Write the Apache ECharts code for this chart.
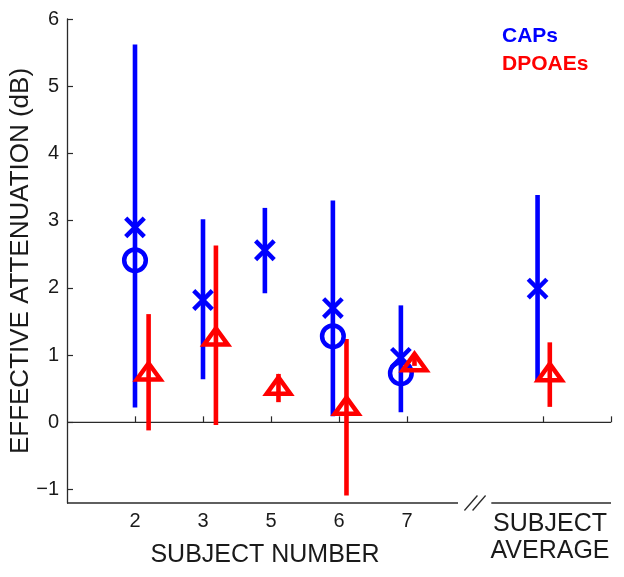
<!DOCTYPE html>
<html><head><meta charset="utf-8">
<script src="https://cdn.jsdelivr.net/npm/echarts@6/dist/echarts.min.js"></script>
<style>html,body{margin:0;padding:0;background:#fff}#c{width:624px;height:577px}</style>
</head><body><div id="c"></div>
<script>
// ---- data ----
const categories = ['2', '3', '5', '6', '7', 'SUBJECT\nAVERAGE'];
const catPos = [1, 2, 3, 4, 5, 7];
const capX = [1.0, 2.0, 2.91, 3.91, 4.91, 6.92];
const dpX = [1.2, 2.19, 3.11, 4.11, 5.11, 7.1];
const capLow = [0.22, 0.64, 1.92, 0.09, 0.15, 0.60];
const capHigh = [5.62, 3.02, 3.19, 3.30, 1.74, 3.38];
const capCross = [2.90, 1.82, 2.56, 1.70, 0.96, 1.99];
const capCircle = [2.41, null, null, 1.28, 0.73, null];
const dpLow = [-0.12, -0.04, 0.30, -1.09, 0.84, 0.23];
const dpHigh = [1.61, 2.63, 0.72, 1.24, 0.96, 1.19];
const dpTri = [0.76, 1.28, 0.55, 0.25, 0.90, 0.75];
const yTicks = [-1, 0, 1, 2, 3, 4, 5, 6];
const xTicks = [1, 2, 3, 4, 5, 7, 8];
const yMin = -1.2, yMax = 6, xMin = 0, xMax = 8;
const axisGap = [5.75, 6.24];
const slashX = [5.94, 6.06];

const BLUE = '#0000ff', RED = '#ff0000', AX = '#2a2a2a';
const FONT = '"Liberation Sans", Arial, Helvetica, sans-serif';

function barSeries(name, xs, lo, hi, color) {
  return {
    type: 'custom', name: name, z: 3,
    data: xs.map((x, i) => [x, lo[i], hi[i]]),
    encode: { x: 0, y: [1, 2] },
    renderItem: function (params, api) {
      const a = api.coord([api.value(0), api.value(1)]);
      const b = api.coord([api.value(0), api.value(2)]);
      return { type: 'line', shape: { x1: a[0], y1: a[1], x2: b[0], y2: b[1] },
        style: { stroke: color, lineWidth: 4.6, lineCap: 'butt' } };
    }
  };
}
function markerSeries(name, xs, ys, color, kind, z) {
  const data = [];
  xs.forEach((x, i) => { if (ys[i] !== null) data.push([x, ys[i]]); });
  return {
    type: 'custom', name: name, z: z,
    data: data, encode: { x: 0, y: 1 },
    renderItem: function (params, api) {
      const p = api.coord([api.value(0), api.value(1)]);
      const st = { stroke: color, fill: 'none', lineWidth: 4.5, lineJoin: 'miter' };
      if (kind === 'x') {
        const s = 9.3;
        return { type: 'group', children: [
          { type: 'line', shape: { x1: p[0] - s, y1: p[1] - s, x2: p[0] + s, y2: p[1] + s }, style: st },
          { type: 'line', shape: { x1: p[0] - s, y1: p[1] + s, x2: p[0] + s, y2: p[1] - s }, style: st }
        ] };
      } else if (kind === 'o') {
        return { type: 'circle', shape: { cx: p[0], cy: p[1], r: 10.8 }, style: st };
      } else {
        return { type: 'polygon', shape: { points: [[p[0], p[1] - 8], [p[0] + 11.8, p[1] + 8.3], [p[0] - 11.8, p[1] + 8.3]] }, style: st };
      }
    }
  };
}

const chart = echarts.init(document.getElementById('c'), null, { renderer: 'canvas' });
chart.setOption({
  animation: false,
  backgroundColor: '#fff',
  grid: { left: 67, right: 13, top: 19, bottom: 74, containLabel: false, outerBoundsMode: 'none' },
  xAxis: {
    type: 'value', min: xMin, max: xMax, interval: 1,
    splitLine: { show: false },
    axisLine: { show: false },
    axisTick: { show: true, inside: true, length: 6, customValues: xTicks, lineStyle: { color: AX, width: 1.2 } },
    axisLabel: {
      customValues: catPos, margin: 8, color: '#1a1a1a', fontFamily: FONT, fontSize: 20,
      formatter: function (v) {
        const i = catPos.indexOf(v);
        if (i < 0) return '';
        if (categories[i].indexOf('\n') >= 0) return categories[i].split('\n').map(t => '{big|' + t + '}').join('\n');
        return '{num|' + categories[i] + '}';
      },
      rich: {
        num: { fontSize: 20, fontFamily: FONT, color: '#1a1a1a' },
        big: { fontSize: 25, lineHeight: 27, fontFamily: FONT, color: '#1a1a1a', padding: [0, 0, 0, 14] }
      }
    },
    name: 'SUBJECT NUMBER', nameLocation: 'middle', nameGap: 40, nameMoveOverlap: false,
    nameTextStyle: { fontSize: 25, fontFamily: FONT, color: '#1a1a1a', padding: [0, 148, 0, 0] }
  },
  yAxis: {
    type: 'value', min: yMin, max: yMax,
    splitLine: { show: false },
    axisLine: { show: true, lineStyle: { color: AX, width: 1.3 } },
    axisTick: { show: true, inside: true, length: 6, customValues: yTicks, lineStyle: { color: AX, width: 1.2 } },
    axisLabel: { customValues: yTicks, margin: 8, color: '#1a1a1a', fontFamily: FONT, fontSize: 20,
      formatter: v => (v < 0 ? '\u2212' + Math.abs(v) : String(v)) },
    name: 'EFFECTIVE ATTENUATION (dB)', nameLocation: 'middle', nameGap: 33, nameMoveOverlap: false,
    nameTextStyle: { fontSize: 26, fontFamily: FONT, color: '#1a1a1a' }
  },
  graphic: [
    { type: 'text', left: 502, top: 26, style: { text: 'CAPs', fill: BLUE, font: 'bold 21px ' + FONT } },
    { type: 'text', left: 502, top: 54, style: { text: 'DPOAEs', fill: RED, font: 'bold 21px ' + FONT } }
  ],
  series: [
    { type: 'line', name: 'zero', data: [[xMin, 0], [xMax, 0]], symbol: 'none', z: 1,
      lineStyle: { color: AX, width: 1.4 } },
    {
      type: 'custom', name: 'xaxisline', z: 1, clip: false,
      data: [[xMin, yMin]], encode: { x: 0, y: 1 },
      renderItem: function (params, api) {
        const y = api.value(1);
        const p0 = api.coord([xMin, y]), p1 = api.coord([axisGap[0], y]);
        const p2 = api.coord([axisGap[1], y]), p3 = api.coord([xMax, y]);
        const st = { stroke: AX, lineWidth: 1.3 };
        const kids = [
          { type: 'line', shape: { x1: p0[0], y1: p0[1], x2: p1[0], y2: p1[1] }, style: st },
          { type: 'line', shape: { x1: p2[0], y1: p2[1], x2: p3[0], y2: p3[1] }, style: st }
        ];
        slashX.forEach(sx => {
          const c = api.coord([sx, y]);
          kids.push({ type: 'line', shape: { x1: c[0] - 6.5, y1: c[1] + 7.5, x2: c[0] + 6.5, y2: c[1] - 7.5 }, style: st });
        });
        return { type: 'group', children: kids };
      }
    },
    barSeries('CAPs', capX, capLow, capHigh, BLUE),
    markerSeries('CAPs x', capX, capCross, BLUE, 'x', 4),
    markerSeries('CAPs o', capX, capCircle, BLUE, 'o', 4),
    barSeries('DPOAEs', dpX, dpLow, dpHigh, RED),
    markerSeries('DPOAEs tri', dpX, dpTri, RED, 'tri', 6)
  ]
});
</script></body></html>
